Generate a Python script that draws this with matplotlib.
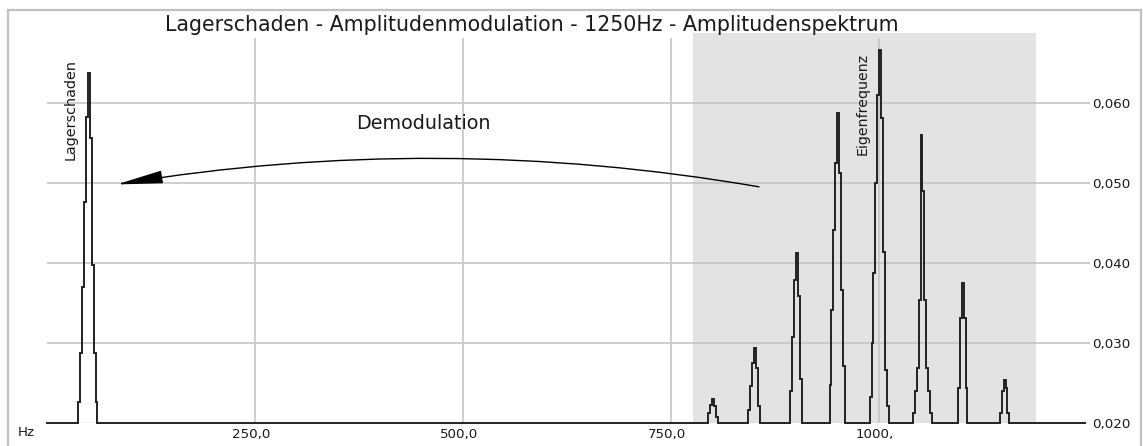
import matplotlib
matplotlib.use("Agg")
import matplotlib.pyplot as plt
from matplotlib.patches import FancyArrowPatch
from matplotlib.lines import Line2D
from matplotlib.transforms import ScaledTranslation

# ---- text -------------------------------------------------------------
title = "Lagerschaden - Amplitudenmodulation - 1250Hz - Amplitudenspektrum"
x_ticks = [250, 500, 750, 1000]
x_tick_labels = ["250,0", "500,0", "750,0", "1000,"]
y_ticks = [0.020, 0.030, 0.040, 0.050, 0.060]
y_tick_labels = ["0,020", "0,030", "0,040", "0,050", "0,060"]

# ---- spectrum (Hz, amplitude) ----------------------------------------
floor_amp = 0.020          # lowest displayed amplitude
f_first, f_last = 0.0, 1248.0
bin_step = 2.3             # spacing of the frequency bins in Hz

# bearing damage line at 50 Hz
p050_f = [38.5, 40.8, 43.1, 45.4, 47.7, 50.0, 52.3, 54.6, 56.9, 59.2]
p050_a = [0.0227, 0.0288, 0.0370, 0.0477, 0.0583, 0.0638, 0.0557, 0.0398, 0.0288, 0.0227]
# carrier at 1000 Hz with sidebands every 50 Hz
p800_f = [795.8, 798.1, 800.4, 802.7, 805.0]
p800_a = [0.0213, 0.0223, 0.0230, 0.0222, 0.0208]
p850_f = [844.0, 846.3, 848.6, 850.9, 853.2, 855.5]
p850_a = [0.0217, 0.0246, 0.0275, 0.0294, 0.0269, 0.0222]
p900_f = [894.2, 896.5, 898.8, 901.1, 903.4, 905.7]
p900_a = [0.0240, 0.0308, 0.0379, 0.0413, 0.0359, 0.0255]
p950_f = [941.7, 944.0, 946.3, 948.6, 950.9, 953.2, 955.5, 957.8]
p950_a = [0.0248, 0.0342, 0.0442, 0.0525, 0.0588, 0.0513, 0.0367, 0.0272]
p1000_f = [989.9, 992.2, 994.5, 996.8, 999.1, 1001.4, 1003.7, 1006.0, 1008.3, 1010.6]
p1000_a = [0.0233, 0.0300, 0.0388, 0.0500, 0.0610, 0.0667, 0.0582, 0.0414, 0.0267, 0.0221]
p1050_f = [1041.9, 1044.2, 1046.5, 1048.8, 1051.1, 1053.4, 1055.7, 1058.0, 1060.3, 1062.6]
p1050_a = [0.0213, 0.0240, 0.0269, 0.0354, 0.0560, 0.0490, 0.0354, 0.0269, 0.0240, 0.0213]
p1100_f = [1096.0, 1098.3, 1100.6, 1102.9, 1105.2]
p1100_a = [0.0244, 0.0332, 0.0375, 0.0332, 0.0244]
p1150_f = [1146.4, 1148.7, 1151.0, 1153.3, 1155.6]
p1150_a = [0.0213, 0.0240, 0.0254, 0.0244, 0.0213]

peaks = [(p050_f, p050_a), (p800_f, p800_a), (p850_f, p850_a), (p900_f, p900_a),
         (p950_f, p950_a), (p1000_f, p1000_a), (p1050_f, p1050_a),
         (p1100_f, p1100_a), (p1150_f, p1150_a)]

# analysed band around the resonance
band_lo, band_hi = 776.4, 1188.7

# assemble one continuous trace, dropping to the floor between lines
freq = [f_first]
amp = [floor_amp]
for pf, pa in peaks:
    freq += [pf[0] - bin_step] + list(pf) + [pf[-1] + bin_step]
    amp += [floor_amp] + list(pa) + [floor_amp]
freq.append(f_last)
amp.append(floor_amp)

# ---- figure -----------------------------------------------------------
W, H = 1143, 446
fig = plt.figure(figsize=(W / 100, H / 100), dpi=100)
fig.patch.set_facecolor("white")

ax_l, ax_r, ax_b, ax_t = 47.3, 1090.0, 423.3, 33.0
ax = fig.add_axes([ax_l / W, 1 - ax_b / H, (ax_r - ax_l) / W, (ax_b - ax_t) / H])
x_max = (ax_r - ax_l) / 0.8317
y_top = floor_amp + (ax_b - ax_t) / 8000.0
ax.set_xlim(0, x_max)
ax.set_ylim(floor_amp, y_top)
for s in ax.spines.values():
    s.set_visible(False)

grid_c = "#c6c6c6"
ax.axvspan(band_lo, band_hi, color="#e3e3e3", lw=0, zorder=0)
ax.vlines(x_ticks, floor_amp, floor_amp + (ax_b - 38.0) / 8000.0,
          colors=grid_c, lw=1.2, zorder=1)
ax.hlines(y_ticks[1:], 0, x_max, colors=grid_c, lw=1.2, zorder=1)
ax.axhline(floor_amp, color="#d0d0d0", lw=1.0, zorder=1)

ax.plot(freq, amp, drawstyle="steps-mid", color="#222222", lw=1.4,
        zorder=3, clip_on=False, solid_joinstyle="miter")

ax.set_xticks(x_ticks, labels=x_tick_labels)
ax.yaxis.tick_right()
ax.set_yticks(y_ticks, labels=y_tick_labels)
ax.tick_params(axis="x", length=0, pad=3.5, labelsize=9.6, colors="#1a1a1a")
ax.tick_params(axis="y", length=0, pad=1.5, labelsize=9.6, colors="#1a1a1a")
shift = ScaledTranslation(-4 / 100, 0, fig.dpi_scale_trans)
for lbl in ax.get_xticklabels():
    lbl.set_transform(lbl.get_transform() + shift)

# annotations
ax.text(28.5, 0.0529, "Lagerschaden", rotation=90, ha="center", va="bottom",
        fontsize=10.4, color="#1a1a1a")
ax.text(980.8, 0.0535, "Eigenfrequenz", rotation=90, ha="center", va="bottom",
        fontsize=10.2, color="#1a1a1a")
ax.text(452, 0.0568, "Demodulation", ha="center", va="baseline",
        fontsize=13.8, color="#1a1a1a")

arrow = FancyArrowPatch((859, 0.0495), (80, 0.0498),
                        connectionstyle="arc3,rad=0.085",
                        arrowstyle="-|>,head_length=2.9,head_width=0.4",
                        mutation_scale=10, color="black", lw=1.0, zorder=4)
ax.add_patch(arrow)

fig.text(532 / W, 1 - 30.7 / H, title, ha="center", va="baseline",
         fontsize=14.8, color="#1a1a1a")
fig.text(18 / W, 1 - 433 / H, "Hz", ha="left", va="center",
         fontsize=9.6, color="#1a1a1a")

# outer frame
frame_c = "#c0c0c0"
for xs, ys in [((8, 8), (10, H)), ((8, 1141), (10, 10)), ((1141, 1141), (10, H))]:
    fig.add_artist(Line2D([x / W for x in xs], [1 - y / H for y in ys],
                          color=frame_c, lw=1.6))

fig.savefig("out.png", dpi=100)
